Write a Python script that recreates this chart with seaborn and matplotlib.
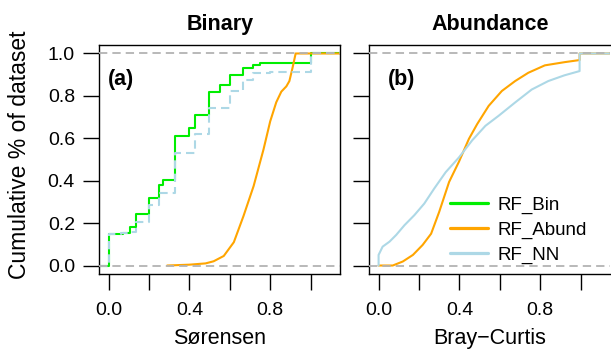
import matplotlib
matplotlib.use("Agg")
import matplotlib.pyplot as plt
from matplotlib.lines import Line2D
import seaborn as sns

# ---- data (cumulative fraction of dataset) ----
# panel (a): Sorensen distance
bin_x = [0.0, 0.07, 0.105, 0.137, 0.198, 0.248, 0.27, 0.33, 0.397, 0.426,
         0.495, 0.55, 0.60, 0.665, 0.715, 0.75, 1.0]
bin_y = [0.147, 0.155, 0.182, 0.242, 0.32, 0.38, 0.403, 0.61, 0.647, 0.708,
         0.82, 0.85, 0.90, 0.93, 0.947, 0.956, 1.0]

nn_a_x = [0.0, 0.06, 0.104, 0.137, 0.198, 0.248, 0.33, 0.43, 0.495, 0.60,
          0.665, 0.715, 0.80, 1.0]
nn_a_y = [0.147, 0.152, 0.16, 0.206, 0.284, 0.34, 0.532, 0.618, 0.744, 0.823,
          0.876, 0.908, 0.915, 1.0]

abund_a_x = [0.29, 0.40, 0.48, 0.52, 0.57, 0.62, 0.668, 0.718, 0.767, 0.80,
             0.83, 0.855, 0.88, 0.895, 0.91, 0.926]
abund_a_y = [0.0, 0.004, 0.01, 0.02, 0.045, 0.11, 0.234, 0.375, 0.548, 0.68,
             0.77, 0.82, 0.845, 0.87, 0.93, 1.0]

# panel (b): Bray-Curtis distance
abund_b_x = [0.0, 0.07, 0.12, 0.17, 0.218, 0.26, 0.30, 0.349, 0.398, 0.447,
             0.488, 0.545, 0.61, 0.676, 0.741, 0.823, 0.92, 0.995, 0.995]
abund_b_y = [0.0, 0.0, 0.019, 0.05, 0.097, 0.15, 0.253, 0.394, 0.49, 0.597,
             0.667, 0.753, 0.823, 0.87, 0.909, 0.944, 0.959, 0.969, 1.0]

nn_b_x = [0.0, 0.0, 0.02, 0.054, 0.087, 0.128, 0.177, 0.226, 0.275, 0.332,
          0.398, 0.463, 0.529, 0.594, 0.676, 0.758, 0.84, 0.92, 0.995, 0.995]
nn_b_y = [0.0, 0.05, 0.089, 0.1125, 0.144, 0.19, 0.2375, 0.292, 0.3625, 0.44,
          0.51, 0.59, 0.659, 0.706, 0.769, 0.83, 0.87, 0.897, 0.917, 1.0]

series_names = ["RF_Bin", "RF_Abund", "RF_NN"]
colors = {"RF_Bin": "#00EE00", "RF_Abund": "#FFA500", "RF_NN": "#ADD8E6"}
tick_vals = [0.0, 0.2, 0.4, 0.6, 0.8, 1.0]
x_labels = ["0.0", "", "0.4", "", "0.8", ""]
y_labels = ["0.0", "0.2", "0.4", "0.6", "0.8", "1.0"]

XLIM = (-0.046, 1.147)
YLIM = (-0.04, 1.04)

sns.set_theme(style="ticks")
plt.rcParams["font.family"] = ["Liberation Sans", "DejaVu Sans"]
plt.rcParams["text.color"] = "black"
plt.rcParams["axes.labelcolor"] = "black"

W, H = 611, 350
fig = plt.figure(figsize=(W / 100, H / 100), dpi=100)
ax_a = fig.add_axes([99.3 / W, 1 - 274 / H, 241 / W, 229 / H])
ax_b = fig.add_axes([369.3 / W, 1 - 274 / H, 241 / W, 229 / H])


def draw(ax, x, y, name, steps=False, dashed=False, left=False):
    # ecdf lines run on to the right edge of the plot region
    xs = ([XLIM[0]] if left else []) + list(x) + [XLIM[1]]
    ys = ([0.0] if left else []) + list(y) + [y[-1]]
    sns.lineplot(x=xs, y=ys, ax=ax, color=colors[name], lw=1.5,
                 estimator=None, sort=False,
                 drawstyle="steps-post" if steps else "default")
    if dashed:
        ax.lines[-1].set_dashes([4, 2.4])


draw(ax_a, bin_x, bin_y, "RF_Bin", steps=True, left=True)
draw(ax_a, abund_a_x, abund_a_y, "RF_Abund")
draw(ax_a, nn_a_x, nn_a_y, "RF_NN", steps=True, dashed=True, left=True)

draw(ax_b, abund_b_x, abund_b_y, "RF_Abund")
draw(ax_b, nn_b_x, nn_b_y, "RF_NN")

for ax, title, xlab, tag, tag_x in [
        (ax_a, "Binary", "Sørensen", "(a)", 0.036),
        (ax_b, "Abundance", "Bray\u2212Curtis", "(b)", 0.078)]:
    for h in (0, 1):
        ax.axhline(h, color="#B3B3B3", lw=1.3, dashes=(4.6, 2.8), zorder=5)
    ax.set_xlim(*XLIM)
    ax.set_ylim(*YLIM)
    ax.set_xticks(tick_vals)
    ax.set_xticklabels(x_labels)
    ax.set_yticks(tick_vals)
    ax.tick_params(axis="both", direction="out", length=11.5, width=1.0,
                   color="black", labelsize=14, labelcolor="black")
    ax.tick_params(axis="x", pad=8.5)
    ax.tick_params(axis="y", pad=6)
    for s in ax.spines.values():
        s.set_visible(True)
        s.set_color("black")
        s.set_linewidth(1.0)
    ax.set_title(title, fontsize=15.5, fontweight="bold", pad=11)
    ax.set_xlabel(xlab, fontsize=15.5, va="center")
    ax.xaxis.set_label_coords(0.5, -0.2795)
    ax.set_ylabel("")
    ax.text(tag_x, 0.8515, tag, transform=ax.transAxes, fontsize=15.5,
            fontweight="bold", va="center", ha="left")
    ax.grid(False)

ax_a.set_yticklabels(y_labels)
ax_b.set_yticklabels([])
ax_b.spines["right"].set_visible(False)

ax_a.set_ylabel("Cumulative % of dataset", fontsize=16.5, va="center")
ax_a.yaxis.set_label_coords(-0.33, 0.52)

handles = [Line2D([], [], color=colors[n], lw=2.3) for n in series_names]
ax_b.legend(handles, series_names, loc="lower left",
            bbox_to_anchor=(0.335, 0.045), frameon=False, fontsize=13.5,
            handlelength=2.0, handletextpad=0.55, labelspacing=0.4,
            borderpad=0, borderaxespad=0)

fig.savefig("out.png", dpi=100)
